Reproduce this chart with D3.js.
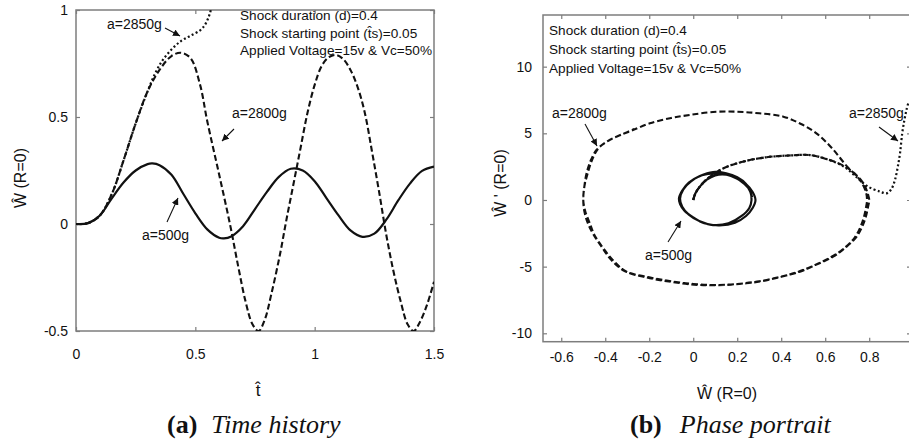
<!DOCTYPE html>
<html lang="en">
<head>
<meta charset="UTF-8">
<title>Time history and phase portrait</title>
<script src="https://cdn.jsdelivr.net/npm/d3@7"></script>
<style>
  body { margin: 0; background: #fff; }
  svg text { font-family: "Liberation Sans", Arial, sans-serif; fill: #111; }
  .frame { fill: none; stroke: #7d7d7d; stroke-width: 1.5; }
  .tick line { stroke: #7d7d7d; stroke-width: 1.2; }
  .tick text { font-size: 14px; }
  .caption text, .caption tspan { font-family: "Liberation Serif", "Times New Roman", serif; font-size: 26px; }
</style>
</head>
<body>
<svg id="fig" width="909" height="445"></svg>
<script>
// (a) time history -- t-hat against W-hat(R=0)
const t500 = [0, 0.05, 0.1, 0.15, 0.2, 0.25, 0.3, 0.32, 0.35, 0.4, 0.45, 0.5, 0.55, 0.6, 0.62, 0.65, 0.7, 0.75, 0.8, 0.85, 0.9, 0.95, 1.0, 1.05, 1.1, 1.15, 1.2, 1.25, 1.3, 1.35, 1.4, 1.45, 1.5];
const w500 = [0, 0.004, 0.04, 0.12, 0.195, 0.25, 0.28, 0.283, 0.275, 0.23, 0.14, 0.05, -0.025, -0.064, -0.067, -0.058, -0.01, 0.07, 0.15, 0.22, 0.258, 0.25, 0.2, 0.12, 0.04, -0.03, -0.06, -0.045, 0.02, 0.11, 0.19, 0.248, 0.268];

const t2800 = [0, 0.05, 0.1, 0.15, 0.2, 0.25, 0.3, 0.35, 0.4, 0.44, 0.48, 0.52, 0.55, 0.6, 0.645, 0.68, 0.71, 0.74, 0.765, 0.79, 0.82, 0.855, 0.88, 0.91, 0.94, 0.97, 1.0, 1.03, 1.06, 1.09, 1.12, 1.15, 1.18, 1.21, 1.24, 1.27, 1.3, 1.33, 1.36, 1.39, 1.415, 1.44, 1.47, 1.5];
const w2800 = [0, 0.004, 0.04, 0.14, 0.30, 0.47, 0.62, 0.72, 0.785, 0.80, 0.775, 0.65, 0.48, 0.23, 0.0, -0.2, -0.36, -0.47, -0.5, -0.45, -0.32, -0.14, 0.01, 0.18, 0.35, 0.52, 0.65, 0.74, 0.78, 0.79, 0.77, 0.72, 0.64, 0.52, 0.34, 0.15, -0.05, -0.22, -0.36, -0.47, -0.5, -0.46, -0.38, -0.27];

const t2850 = [0, 0.05, 0.1, 0.15, 0.2, 0.25, 0.3, 0.33, 0.36, 0.4, 0.44, 0.48, 0.52, 0.54, 0.555, 0.565, 0.575];
const w2850 = [0, 0.004, 0.04, 0.14, 0.30, 0.47, 0.62, 0.70, 0.76, 0.815, 0.855, 0.88, 0.905, 0.93, 0.965, 1.0, 1.05];

const ticksAx = [0, 0.5, 1, 1.5];
const ticksAy = [-0.5, 0, 0.5, 1];

// (b) phase portrait -- W-hat against W-hat' (R=0)
const p500x = [0, 0.01, 0.03, 0.06, 0.1, 0.15, 0.2, 0.24, 0.27, 0.283, 0.27, 0.24, 0.19, 0.12, 0.05, 0.0, -0.04, -0.06, -0.065, -0.05, -0.02, 0.03, 0.09, 0.15, 0.2, 0.24, 0.26, 0.265, 0.255, 0.22, 0.16, 0.09, 0.03, -0.02, -0.05, -0.06, -0.045, -0.01, 0.04, 0.1, 0.16, 0.21, 0.25, 0.268];
const p500y = [0, 0.5, 1.0, 1.5, 1.85, 1.9, 1.6, 1.2, 0.6, 0, -0.6, -1.2, -1.7, -1.9, -1.75, -1.3, -0.8, -0.3, 0.1, 0.7, 1.3, 1.8, 2.1, 2.0, 1.7, 1.2, 0.6, 0, -0.6, -1.2, -1.75, -1.88, -1.6, -1.1, -0.5, 0.1, 0.8, 1.4, 1.85, 2.0, 1.9, 1.5, 0.9, 0.2];

const p2800x = [0, 0.01, 0.04, 0.08, 0.14, 0.22, 0.33, 0.45, 0.53, 0.6, 0.68, 0.74, 0.775, 0.795, 0.8, 0.795, 0.78, 0.743, 0.69, 0.636, 0.56, 0.485, 0.4, 0.3, 0.2, 0.1, 0.0, -0.1, -0.2, -0.303, -0.36, -0.41, -0.45, -0.47, -0.49, -0.5, -0.495, -0.485, -0.465, -0.44, -0.4, -0.348, -0.28, -0.197, -0.1, -0.015, 0.09, 0.2, 0.3, 0.41, 0.49, 0.56, 0.63, 0.7, 0.758, 0.785, 0.79, 0.785, 0.77, 0.735, 0.68, 0.625, 0.55, 0.475, 0.39, 0.29, 0.19, 0.09, -0.01, -0.11, -0.21, -0.31, -0.37, -0.415, -0.455, -0.48, -0.495, -0.5, -0.495, -0.48, -0.46, -0.43, -0.38, -0.32, -0.27];
const p2800y = [0, 0.5, 1.2, 1.8, 2.4, 2.85, 3.2, 3.35, 3.37, 3.1, 2.6, 1.9, 1.2, 0.4, 0, -0.5, -1.5, -2.75, -3.6, -4.25, -4.85, -5.38, -5.75, -6.1, -6.3, -6.38, -6.3, -6.1, -5.8, -5.38, -4.6, -3.6, -2.6, -1.75, -0.9, 0, 1.0, 2.0, 3.0, 3.75, 4.3, 4.75, 5.2, 5.75, 6.15, 6.38, 6.6, 6.62, 6.5, 6.25, 5.7, 5.0, 3.9, 2.5, 1.5, 0.6, 0, -0.6, -1.6, -2.8, -3.7, -4.3, -4.9, -5.4, -5.8, -6.15, -6.33, -6.4, -6.33, -6.12, -5.82, -5.35, -4.55, -3.55, -2.55, -1.7, -0.85, 0, 1.0, 2.0, 3.0, 3.9, 4.5, 4.95, 5.3];

const p2850x = [0, 0.01, 0.04, 0.08, 0.14, 0.22, 0.33, 0.45, 0.53, 0.6, 0.68, 0.74, 0.79, 0.85, 0.879, 0.9, 0.917, 0.93, 0.94, 0.95, 0.96, 0.97, 0.98];
const p2850y = [0, 0.5, 1.2, 1.8, 2.4, 2.85, 3.2, 3.35, 3.37, 3.1, 2.55, 1.75, 1.05, 0.62, 0.5, 0.8, 1.5, 2.5, 3.5, 5.0, 6.0, 6.8, 7.4];

const ticksBx = [-0.6, -0.4, -0.2, 0, 0.2, 0.4, 0.6, 0.8];
const ticksBy = [-10, -5, 0, 5, 10];

const svg = d3.select("#fig");

// arrow head used by the "a=..." callouts
svg.append("defs").append("marker")
  .attr("id", "head")
  .attr("viewBox", "0 0 10 10")
  .attr("refX", 10).attr("refY", 5)
  .attr("markerWidth", 7).attr("markerHeight", 7)
  .attr("markerUnits", "userSpaceOnUse")
  .attr("orient", "auto")
  .append("path").attr("d", "M0,0 L10,5 L0,10 z").attr("fill", "#111");

const styles = {
  solid: { width: 2.2, dash: null },
  dashed: { width: 2.1, dash: "6,3" },
  dotted: { width: 2.2, dash: "2,2.4" }
};

function panel(id, box, xDom, yDom, xTicks, yTicks, pad) {
  const x = d3.scaleLinear().domain(xDom).range([box.left, box.right]);
  const y = d3.scaleLinear().domain(yDom).range([box.bottom, box.top]);
  const g = svg.append("g").attr("id", id);

  g.append("clipPath").attr("id", id + "-clip")
    .append("rect")
    .attr("x", box.left).attr("y", box.top)
    .attr("width", box.right - box.left).attr("height", box.bottom - box.top);

  // ticks point inward on all four sides
  g.append("g").attr("transform", `translate(0,${box.bottom})`)
    .call(d3.axisBottom(x).tickValues(xTicks).tickSize(-4).tickPadding(pad.x).tickFormat(d => String(d)))
    .call(a => a.select(".domain").remove());
  g.append("g").attr("transform", `translate(0,${box.top})`)
    .call(d3.axisTop(x).tickValues(xTicks).tickSize(-4).tickFormat(""))
    .call(a => a.select(".domain").remove());
  g.append("g").attr("transform", `translate(${box.left},0)`)
    .call(d3.axisLeft(y).tickValues(yTicks).tickSize(-4).tickPadding(pad.y).tickFormat(d => String(d)))
    .call(a => a.select(".domain").remove());
  g.append("g").attr("transform", `translate(${box.right},0)`)
    .call(d3.axisRight(y).tickValues(yTicks).tickSize(-4).tickFormat(""))
    .call(a => a.select(".domain").remove());

  g.append("rect").attr("class", "frame")
    .attr("x", box.left).attr("y", box.top)
    .attr("width", box.right - box.left).attr("height", box.bottom - box.top);

  const plot = g.append("g").attr("clip-path", `url(#${id}-clip)`);

  function curve(xs, ys, kind) {
    const pts = xs.map((v, i) => [v, ys[i]]);
    const line = d3.line().x(d => x(d[0])).y(d => y(d[1])).curve(d3.curveCatmullRom.alpha(0.5));
    plot.append("path")
      .attr("d", line(pts))
      .attr("fill", "none")
      .attr("stroke", "#111")
      .attr("stroke-width", styles[kind].width)
      .attr("stroke-dasharray", styles[kind].dash)
      .attr("stroke-linejoin", "round");
  }

  function callout(label, tx, ty, from, to) {
    g.append("text").attr("x", tx).attr("y", ty).attr("font-size", "14px").text(label);
    g.append("line")
      .attr("x1", from[0]).attr("y1", from[1]).attr("x2", to[0]).attr("y2", to[1])
      .attr("stroke", "#111").attr("stroke-width", 1.1)
      .attr("marker-end", "url(#head)");
  }

  function notes(x0, ys) {
    const lines = ["Shock duration (d)=0.4", "Shock starting point (t\u0302s)=0.05", "Applied Voltage=15v & Vc=50%"];
    lines.forEach((s, i) => {
      g.append("text").attr("x", x0).attr("y", ys[i]).attr("font-size", "13.6px").text(s);
    });
  }

  return { x, y, g, curve, callout, notes };
}

// ---- panel (a) ----
const A = panel("timeHistory", { left: 76, right: 434, top: 10, bottom: 331 },
  [0, 1.5], [-0.5, 1], ticksAx, ticksAy, { x: 18, y: 8 });
A.curve(t2850, w2850, "dotted");
A.curve(t2800, w2800, "dashed");
A.curve(t500, w500, "solid");
A.notes(240, [20, 38, 55]);
A.callout("a=2850g", 107, 29, [165, 28], [180, 36]);
A.callout("a=2800g", 232, 118, [234, 129], [222, 141]);
A.callout("a=500g", 142, 240, [167, 222], [178, 198]);

A.g.append("text").attr("transform", "translate(26,178) rotate(-90)")
  .attr("text-anchor", "middle").attr("font-size", "16px").text("\u0174 (R=0)");
A.g.append("text").attr("x", 258).attr("y", 396)
  .attr("text-anchor", "middle").attr("font-size", "17px").text("t\u0302");

// ---- panel (b) ----
const B = panel("phasePortrait", { left: 543, right: 911, top: 15, bottom: 341.7 },
  [-0.683, 0.99], [-10.63, 13.875], ticksBx, ticksBy, { x: 10, y: 11 });
B.curve(p2850x, p2850y, "dotted");
B.curve(p2800x, p2800y, "dashed");
B.curve(p500x, p500y, "solid");
B.notes(549, [35, 54, 73]);
B.callout("a=2800g", 552, 118, [585, 124], [597, 146]);
B.callout("a=2850g", 849, 118, [879, 127], [898, 141]);
B.callout("a=500g", 645, 260, [668, 242], [681, 221]);

B.g.append("text").attr("transform", "translate(506,183) rotate(-90)")
  .attr("text-anchor", "middle").attr("font-size", "16px").text("\u0174 ' (R=0)");
B.g.append("text").attr("x", 727).attr("y", 399)
  .attr("text-anchor", "middle").attr("font-size", "16px").text("\u0174 (R=0)");

// ---- captions ----
const cap = svg.append("g").attr("class", "caption");
const capA = cap.append("text").attr("x", 167).attr("y", 433);
capA.append("tspan").attr("font-weight", "bold").text("(a)");
capA.append("tspan").attr("dx", 14).attr("font-style", "italic").text("Time history");
const capB = cap.append("text").attr("x", 630).attr("y", 433);
capB.append("tspan").attr("font-weight", "bold").text("(b)");
capB.append("tspan").attr("dx", 18).attr("font-style", "italic").text("Phase portrait");
</script>
</body>
</html>
